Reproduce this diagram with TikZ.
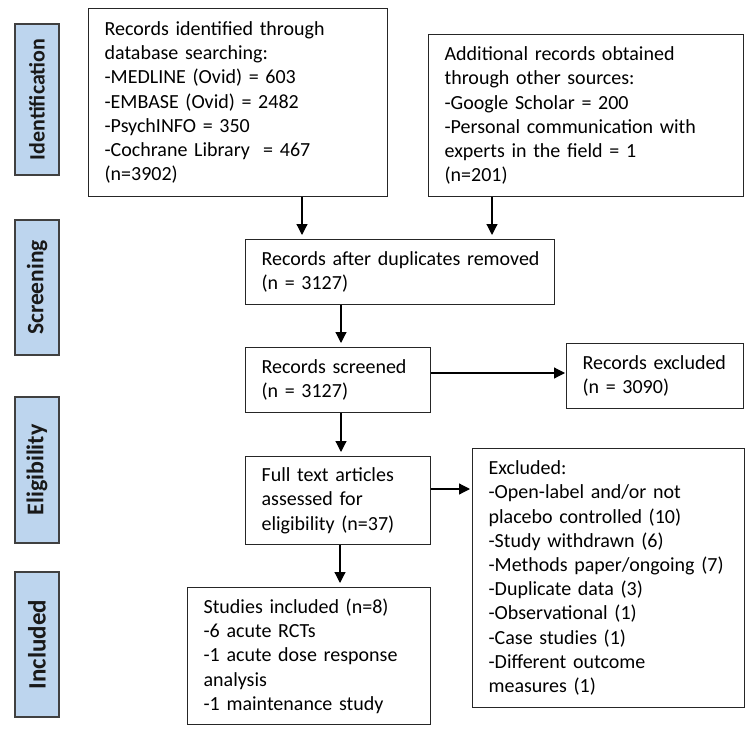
\documentclass[tikz,border=0pt]{standalone}
\usepackage{fontspec}
\setmainfont{Carlito}
\usetikzlibrary{arrows.meta,calc}
\definecolor{sideblue}{HTML}{BDD5EE}
\begin{document}
\begin{tikzpicture}[x=1pt,y=-1pt,
  box/.style={draw=black!85, line width=1.2pt, anchor=north west, align=left,
    inner xsep=16pt, inner ysep=0pt, font=\fontsize{20}{24.2}\selectfont},
  side/.style={draw=black!75, line width=1.2pt, fill=sideblue, rotate=90,
    minimum height=44pt, inner sep=0pt, text=black!90},
  arr/.style={line width=1.2pt, draw=black, -{Triangle[length=11pt,width=11pt]}}]
\useasboundingbox (0,0) rectangle (749,738);

% side labels
\node[side, minimum width=151pt, font=\fontsize{22}{26}\selectfont\bfseries] (s1) at (37,99.5) {Identification};
\node[side, minimum width=135pt, font=\fontsize{23.5}{26}\selectfont\bfseries] (s2) at (37,287.5) {Screening};
\node[side, minimum width=146pt, font=\fontsize{24}{26}\selectfont\bfseries] (s3) at (37,470) {Eligibility};
\node[side, minimum width=145pt, font=\fontsize{25}{26}\selectfont\bfseries] (s4) at (37,644.5) {Included};

% boxes
\node[box, text width=267pt, minimum height=188pt] (b1) at (88,8)
  {Records identified through\\database searching:\\-MEDLINE (Ovid) = 603\\-EMBASE (Ovid) = 2482\\-PsychINFO = 350\\-Cochrane Library\ \ = 467\\(n=3902)};
\node[box, text width=283pt, minimum height=162pt] (b2) at (428,34)
  {Additional records obtained\\through other sources:\\-Google Scholar = 200\\-Personal communication with\\experts in the field = 1\\(n=201)};
\node[box, text width=277pt, minimum height=65pt] (b3) at (245,239)
  {\mbox{Records after duplicates removed}\\(n = 3127)};
\node[box, text width=153pt, minimum height=65pt] (b4) at (245,347)
  {Records screened\\(n = 3127)};
\node[box, text width=145pt, minimum height=65pt] (b5) at (566,343)
  {Records excluded\\(n = 3090)};
\node[box, text width=153pt, minimum height=88pt] (b6) at (245,456)
  {Full text articles\\assessed for\\eligibility (n=37)};
\node[box, text width=211pt, minimum height=137pt] (b7) at (187,587)
  {Studies included (n=8)\\-6 acute RCTs\\-1 acute dose response\\analysis\\-1 maintenance study};
\node[box, text width=240pt, minimum height=259pt] (b8) at (472,448)
  {Excluded:\\-Open-label and/or not\\placebo controlled (10)\\-Study withdrawn (6)\\-Methods paper/ongoing (7)\\-Duplicate data (3)\\-Observational (1)\\-Case studies (1)\\-Different outcome\\measures (1)};

% connector guide coordinates
\coordinate (xa) at (302,0);
\coordinate (xb) at (492,0);
\coordinate (xc) at (341,0);
\coordinate (xd) at (340,0);
\coordinate (ya) at (0,373);
\coordinate (yb) at (0,489);

\draw[arr, shorten >=4pt] (b1.south -| xa) -- (b3.north -| xa);
\draw[arr, shorten >=4pt] (b2.south -| xb) -- (b3.north -| xb);
\draw[arr, shorten >=4pt] (b3.south -| xc) -- (b4.north -| xc);
\draw[arr, shorten >=1pt] (b4.east |- ya) -- (b5.west |- ya);
\draw[arr, shorten >=4pt] (b4.south -| xc) -- (b6.north -| xc);
\draw[arr, shorten >=2pt] (b6.east |- yb) -- (b8.west |- yb);
\draw[arr, shorten >=4pt] (b6.south -| xd) -- (b7.north -| xd);
\end{tikzpicture}
\end{document}
